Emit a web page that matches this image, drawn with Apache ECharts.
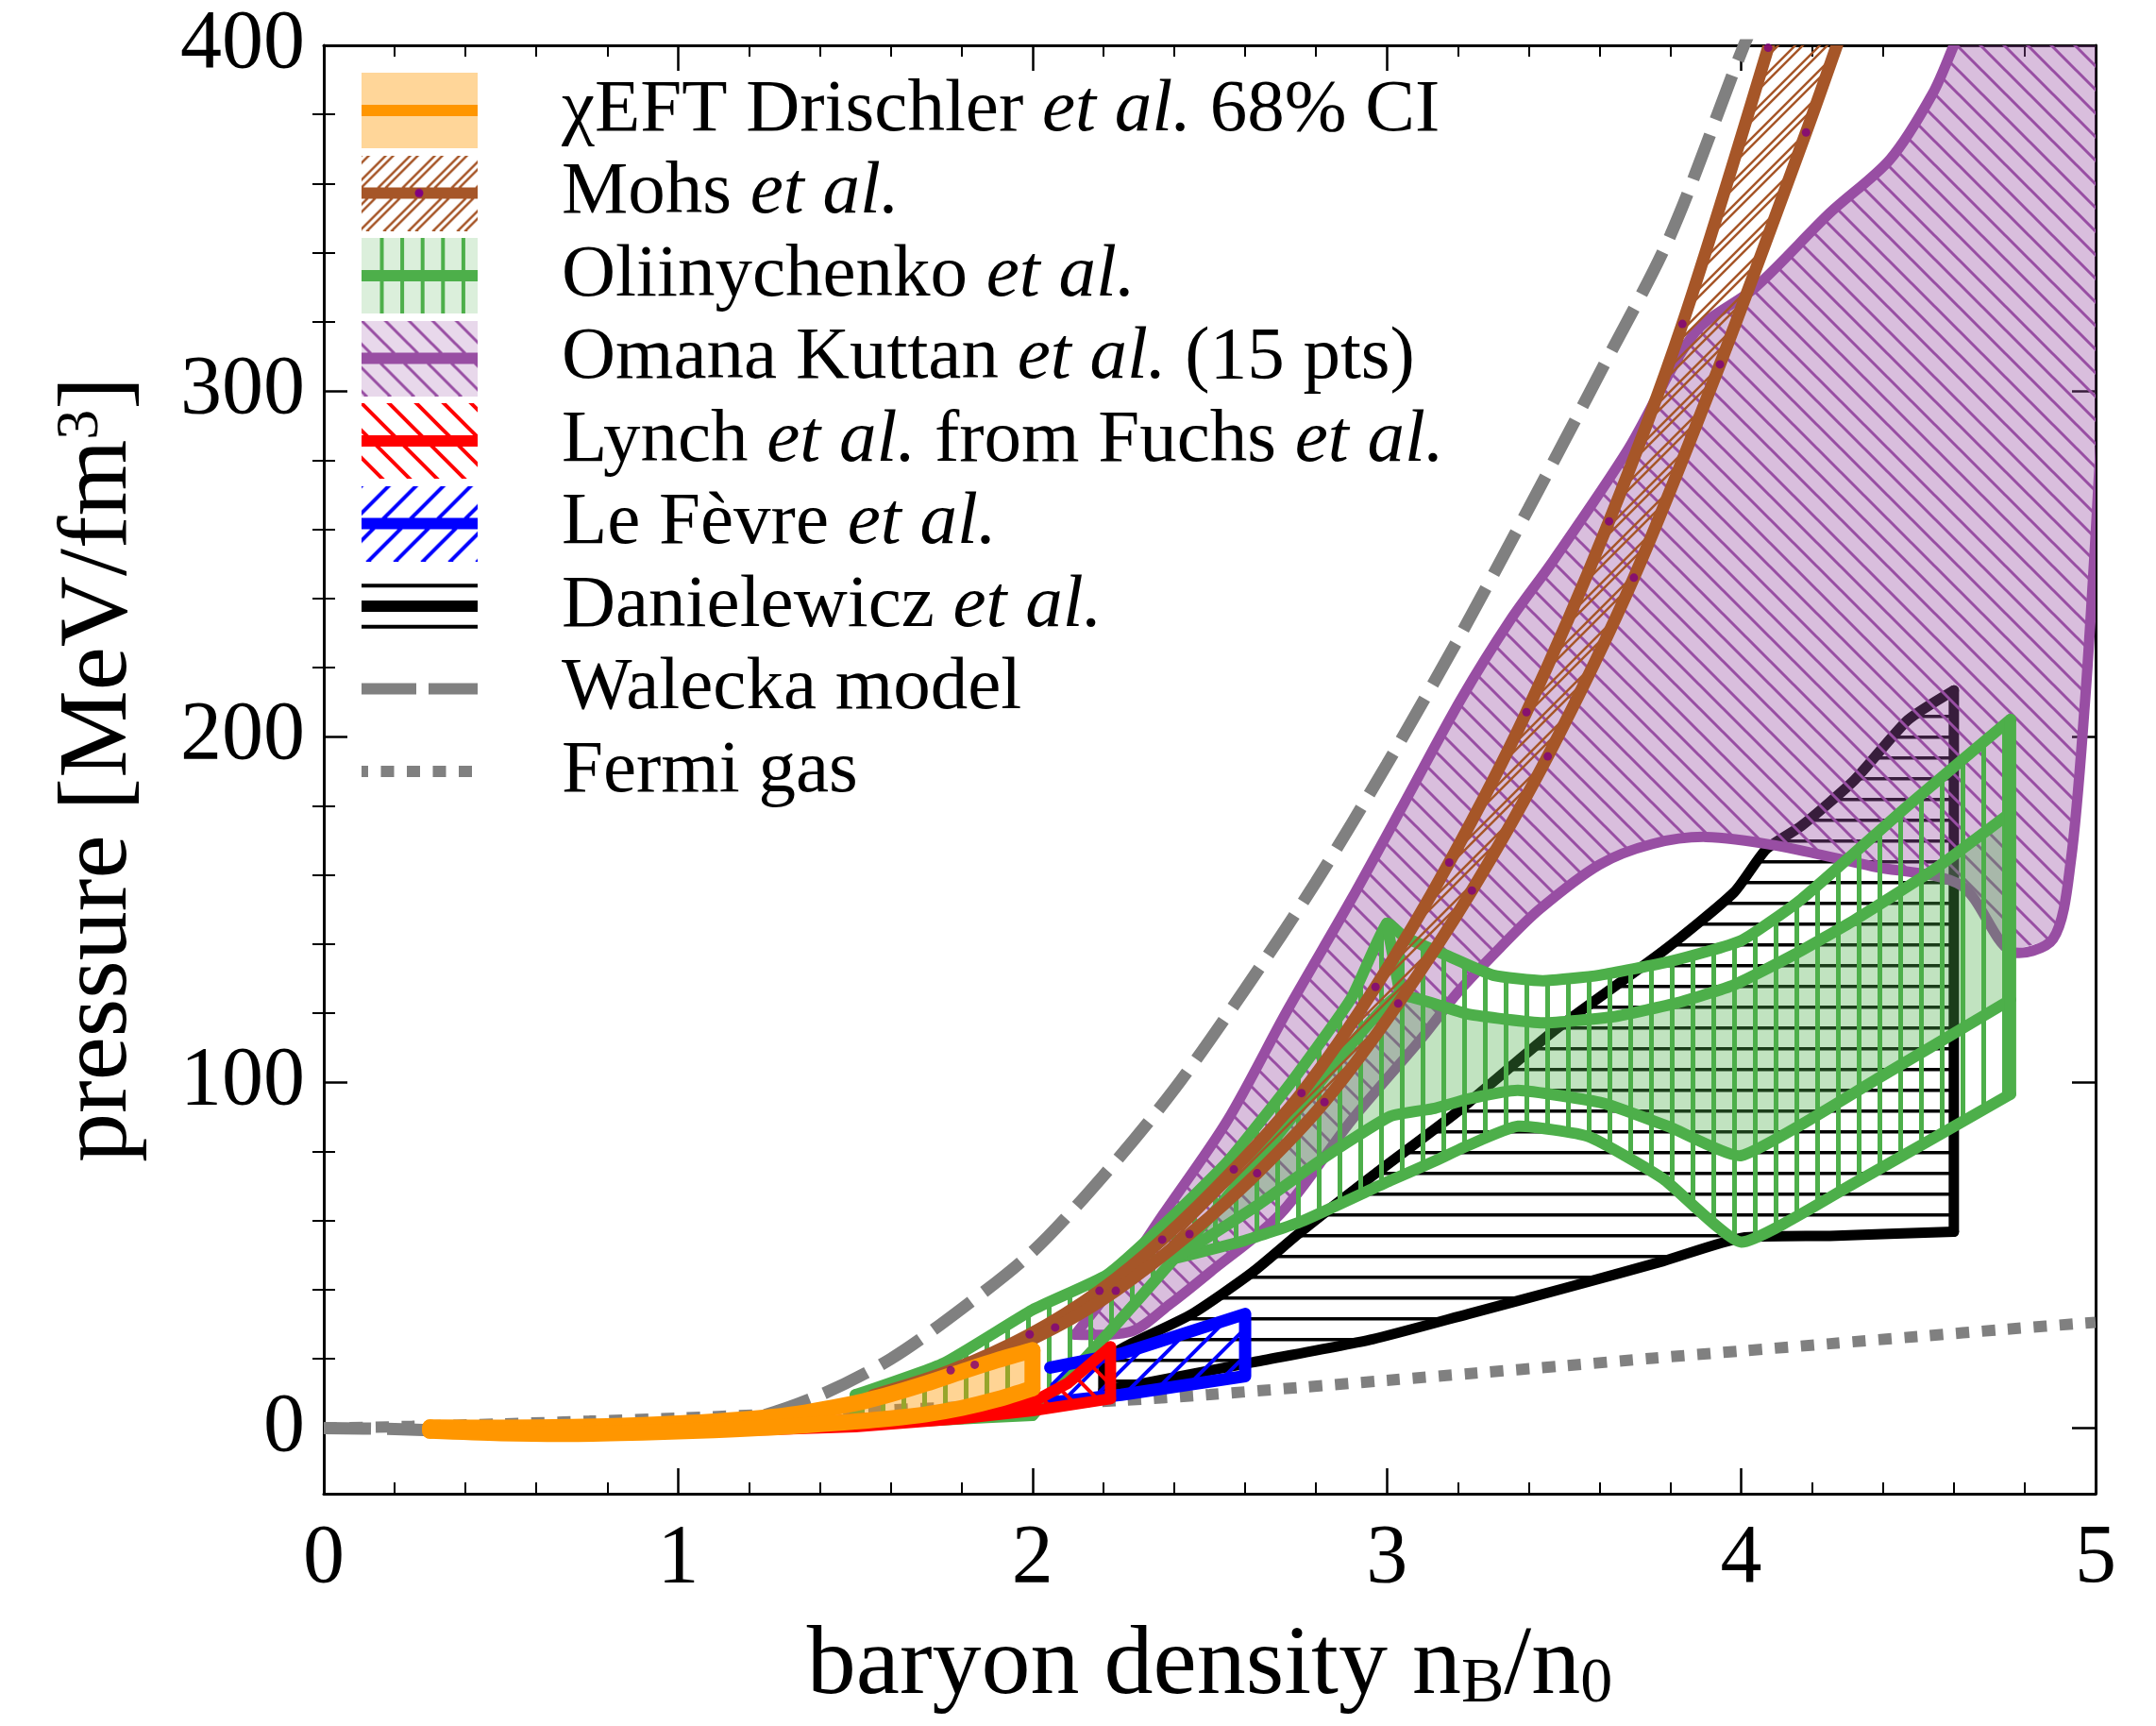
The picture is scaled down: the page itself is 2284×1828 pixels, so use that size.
<!DOCTYPE html>
<html lang="en">
<head>
<meta charset="utf-8" />
<title>pressure vs baryon density</title>
<script src="https://cdn.jsdelivr.net/npm/echarts@6/dist/echarts.min.js"></script>
<style>
    html, body { margin: 0; background: #FFFFFF; }
    #chart { width: 2284px; height: 1828px; }
</style>
</head>
<body>
<div id="chart"></div>
<script>
// x = n_B / n_0, y = pressure [MeV/fm^3]

var walecka = [[0, 0], [0.2, -0.3], [0.4, -1.0], [0.6, -1.8], [0.8, -1.6], [1.0, -0.3], [1.2, 2.5], [1.4, 9.5],
    [1.6, 20], [1.8, 34.5], [2.0, 51], [2.2, 73], [2.4, 98], [2.6, 127], [2.8, 158], [3.0, 192], [3.2, 228],
    [3.4, 266], [3.6, 305], [3.8, 345], [4.0, 398], [4.1, 422]];
var fermiGas = [[0, 0], [0.25, 0.5], [0.5, 1.2], [0.75, 2.0], [1.0, 2.9], [1.25, 3.9], [1.5, 4.9], [1.75, 5.9],
    [2.0, 6.9], [2.25, 8.0], [2.5, 9.7], [2.75, 11.7], [3.0, 13.8], [3.25, 15.9], [3.5, 18.0], [3.75, 20.2],
    [4.0, 22.3], [4.25, 24.4], [4.5, 26.5], [4.75, 28.6], [5.0, 30.6]];

var eftUpper = [[0.3, 0.2], [0.5, 0.1], [0.7, 0.3], [0.9, 0.9], [1.1, 1.9], [1.3, 3.6], [1.5, 7.2], [1.6, 9.8],
    [1.7, 12.9], [1.8, 16.3], [1.9, 19.6], [2.0, 22.5]];
var eftLower = [[0.3, -0.8], [0.5, -1.5], [0.7, -1.7], [0.9, -1.3], [1.1, -0.6], [1.3, 0.4], [1.5, 1.9], [1.6, 2.8],
    [1.7, 4.0], [1.8, 5.8], [1.9, 8.3], [2.0, 11.5]];

var mohsUpper = [[1.55, 9.5], [1.769, 16.7], [1.992, 27.1], [2.189, 39.7], [2.366, 54.5], [2.568, 74.8], [2.759, 96.9],
    [2.968, 127.6], [3.176, 163.6], [3.394, 207.1], [3.627, 262.3], [3.834, 319.4], [4.076, 399.3], [4.1, 410]];
var mohsLower = [[1.6, 10], [1.837, 18.3], [2.064, 29.1], [2.235, 39.7], [2.443, 56.1], [2.634, 73.7], [2.824, 94.3],
    [3.032, 122.8], [3.24, 155.5], [3.454, 194.3], [3.697, 246], [3.94, 307.7], [4.183, 374.8], [4.27, 400], [4.31, 412]];
var mohsDots = [[1.769, 16.7], [1.992, 27.1], [2.189, 39.7], [2.366, 54.5], [2.568, 74.8], [2.759, 96.9], [2.968, 127.6],
    [3.176, 163.6], [3.394, 207.1], [3.627, 262.3], [3.834, 319.4], [4.076, 399.3],
    [1.837, 18.3], [2.064, 29.1], [2.235, 39.7], [2.443, 56.1], [2.634, 73.7], [2.824, 94.3], [3.032, 122.8],
    [3.24, 155.5], [3.454, 194.3], [3.697, 246], [3.94, 307.7], [4.183, 374.8]];

var omanaUpper = [[2.12, 27], [2.25, 44], [2.37, 62], [2.55, 89], [2.72, 121], [2.9, 153], [3.05, 181], [3.21, 211],
    [3.35, 234], [3.47, 251], [3.68, 283], [3.87, 317], [4.04, 330], [4.25, 351.5], [4.42, 367], [4.54, 386],
    [4.6, 400], [4.65, 412], [5.1, 412]];
var omanaLower = [[2.12, 27], [2.28, 28], [2.39, 36], [2.5, 45], [2.7, 62], [2.9, 89], [3.1, 113], [3.2, 126],
    [3.32, 139], [3.43, 150], [3.6, 163], [3.75, 169], [3.9, 171], [4.1, 168.5], [4.37, 162.5], [4.62, 157],
    [4.76, 138], [4.88, 141.5], [4.93, 164], [4.97, 210], [5.0, 258], [5.04, 330], [5.1, 412]];

var oliTop = [[1.5, 9.6], [1.75, 18.8], [2.0, 34.2], [2.21, 44.3], [2.37, 58.8], [2.55, 77], [2.73, 100], [2.9, 124.4],
    [3.0, 146], [3.05, 142], [3.17, 136.7], [3.3, 131], [3.44, 129.4], [3.6, 131], [3.8, 135], [4.0, 141],
    [4.17, 153], [4.47, 180], [4.76, 205]];
var oliBottom = [[1.5, 1.1], [1.75, 2.4], [2.0, 3.7]];
var oliC = [[2.0, 3.7], [2.21, 27], [2.4, 49], [2.64, 78], [2.85, 105], [3.03, 125], [3.23, 119.7], [3.44, 117.2],
    [3.64, 119], [3.82, 123], [3.98, 128.2], [4.15, 137], [4.32, 147], [4.55, 162], [4.76, 178]];
var oliD = [[2.4, 49], [2.6, 54.3], [2.76, 59.8], [3.01, 71.6], [3.13, 77], [3.23, 81.8], [3.37, 87.3], [3.57, 84.3],
    [3.78, 72.1], [4.0, 53.8], [4.32, 70.9], [4.76, 96.6]];
var oliE = [[2.4, 49], [2.64, 64.8], [2.82, 78], [3.01, 90.2], [3.135, 92.5], [3.23, 95.2], [3.37, 97.7], [3.61, 94],
    [3.8, 87], [4.0, 78.8], [4.39, 101.4], [4.76, 123.9]];
var oliNotch = [[3.0, 146], [3.04, 124]];

var lynchUpper = [[1.2, 0.3], [1.5, 2.5], [1.8, 5], [2.0, 7.5], [2.1, 13], [2.22, 23.5]];
var lynchLower = [[1.2, -0.6], [1.5, 0.4], [1.8, 2.8], [2.0, 5], [2.22, 8.5]];

var lefevreUpper = [[2.05, 17.5], [2.25, 21.5], [2.6, 33]];
var lefevreLower = [[2.05, 7.4], [2.25, 9.6], [2.6, 15]];

var danUpper = [[2.2, 20], [2.28, 24.5], [2.45, 33], [2.62, 45], [2.76, 57], [2.96, 73], [3.2, 91.6], [3.47, 114.8],
    [3.78, 138], [3.98, 155], [4.07, 167.4], [4.17, 174.2], [4.32, 187.5], [4.47, 204.8], [4.6, 213.4]];
var danLower = [[2.2, 11], [2.28, 12.3], [2.62, 19], [2.96, 25.7], [3.23, 33], [3.5, 40.4], [3.78, 48.3], [4.0, 55],
    [4.25, 55.6], [4.6, 56.8]];

var xTicks = [0, 1, 2, 3, 4, 5];
var yMajor = [0, 100, 200, 300, 400];
var yMinor = [20, 40, 60, 80, 120, 140, 160, 180, 220, 240, 260, 280, 320, 340, 360, 380];

var legendNames = ['χEFT Drischler et al. 68% CI', 'Mohs et al.', 'Oliinychenko et al.', 'Omana Kuttan et al. (15 pts)',
    'Lynch et al. from Fuchs et al.', 'Le Fèvre et al.', 'Danielewicz et al.', 'Walecka model', 'Fermi gas'];

var FONT = 'Liberation Serif';
var ORANGE = '#FF9600', BROWN = '#A65628', GREEN = '#4DAF4A', PURPLE = '#984EA3';
var RED = '#FF0000', BLUE = '#0000FF', GRAY = '#808080';

// hatch tiles
function tile(s, draw) {
    var c = document.createElement('canvas');
    c.width = s; c.height = s;
    draw(c.getContext('2d'), s);
    return c;
}
function diag(g, s, dir, color, lw, offsets) {
    g.strokeStyle = color; g.lineWidth = lw; g.beginPath();
    offsets.forEach(function (o) {
        for (var k = -2; k <= 2; k++) {
            var x = k * s + o;
            if (dir === '\\') { g.moveTo(x - s, -s); g.lineTo(x + 2 * s, 2 * s); }
            else { g.moveTo(x - s, 2 * s); g.lineTo(x + 2 * s, -s); }
        }
    });
    g.stroke();
}
var hatch = {
    purple: tile(25, function (g, s) { diag(g, s, '\\', PURPLE, 3, [0]); }),
    brown: tile(26, function (g, s) { diag(g, s, '/', BROWN, 2.5, [0, 8]); }),
    green: tile(22, function (g, s) { g.fillStyle = GREEN; g.fillRect(9, 0, 5, s); }),
    black: tile(22, function (g, s) { g.fillStyle = '#000'; g.fillRect(0, 9, s, 3.5); }),
    red: tile(29, function (g, s) { diag(g, s, '\\', RED, 4, [0]); }),
    blue: tile(29, function (g, s) { diag(g, s, '/', BLUE, 4, [0]); })
};

// legend swatches
function swatch(draw) {
    var c = document.createElement('canvas');
    c.width = 123; c.height = 80;
    draw(c.getContext('2d'), 123, 80);
    return 'image://' + c.toDataURL();
}
function patFill(g, t) { g.fillStyle = g.createPattern(t, 'repeat'); g.fillRect(0, 0, 123, 80); }
function hline(g, color, lw, y, dash, off) {
    g.strokeStyle = color; g.lineWidth = lw; g.setLineDash(dash || []); g.lineDashOffset = off || 0;
    g.beginPath(); g.moveTo(0, y); g.lineTo(123, y); g.stroke();
}
var icons = [
    swatch(function (g) { g.fillStyle = 'rgba(255,153,0,0.4)'; g.fillRect(0, 0, 123, 80); hline(g, ORANGE, 12, 40); }),
    swatch(function (g) {
        patFill(g, hatch.brown); hline(g, BROWN, 12, 40);
        g.fillStyle = '#800080'; g.beginPath(); g.arc(61, 40, 4.5, 0, 7); g.fill();
    }),
    swatch(function (g) {
        g.fillStyle = 'rgba(77,175,74,0.2)'; g.fillRect(0, 0, 123, 80);
        g.fillStyle = GREEN; for (var x = 19.5; x < 123; x += 21.6) g.fillRect(x, 0, 4, 80);
        hline(g, GREEN, 12, 40);
    }),
    swatch(function (g) { g.fillStyle = 'rgba(152,78,163,0.22)'; g.fillRect(0, 0, 123, 80); patFill(g, hatch.purple); hline(g, PURPLE, 12, 40); }),
    swatch(function (g) { patFill(g, hatch.red); hline(g, RED, 12, 40); }),
    swatch(function (g) { patFill(g, hatch.blue); hline(g, BLUE, 12, 40); }),
    swatch(function (g) { hline(g, '#000', 4, 18.3); hline(g, '#000', 12, 40); hline(g, '#000', 4, 61.7); }),
    swatch(function (g) { hline(g, GRAY, 12, 40, [58, 13]); }),
    swatch(function (g) { hline(g, GRAY, 12, 40, [14, 13.5], 7); })
];

function rich(name) {
    return name.split('et al.').map(function (p) { return p ? '{n|' + p + '}' : ''; }).join('{i|et al.}');
}

function rev(a) { return a.slice().reverse(); }

function band(name, z, cfg) {
    return {
        name: name,
        type: 'custom',
        coordinateSystem: 'cartesian2d',
        clip: true,
        silent: true,
        z: z,
        data: [[0, 0]],
        renderItem: function (params, api) {
            var px = function (p) { return api.coord(p); };
            var kids = [];
            (cfg.areas || []).forEach(function (a) {
                var pts = a.pts.map(px);
                if (a.fill) kids.push({ type: 'polygon', shape: { points: pts }, style: { fill: a.fill, stroke: null } });
                if (a.hatch) kids.push({ type: 'polygon', shape: { points: pts }, style: { fill: { image: a.hatch, repeat: 'repeat' }, stroke: null } });
            });
            (cfg.lines || []).forEach(function (l) {
                kids.push({
                    type: 'polyline',
                    shape: { points: l.map(px), smooth: cfg.smooth || 0 },
                    style: { fill: null, stroke: cfg.color, lineWidth: cfg.width, lineJoin: 'round', lineCap: 'round' }
                });
            });
            return { type: 'group', children: kids };
        }
    };
}

var series = [
    {
        name: legendNames[7], type: 'line', z: 1, data: walecka, symbol: 'none', smooth: 0.3, silent: true,
        lineStyle: { color: GRAY, width: 13, type: [50, 17], cap: 'butt' }
    },
    {
        name: legendNames[8], type: 'line', z: 1, data: fermiGas, symbol: 'none', smooth: 0.3, silent: true,
        lineStyle: { color: GRAY, width: 12, type: [14, 13.5], cap: 'butt' }
    },
    band(legendNames[6], 3, {
        color: '#000', width: 11, smooth: 0.2,
        areas: [{ pts: danUpper.concat(rev(danLower)), hatch: hatch.black }],
        lines: [danUpper, danLower, [danLower[danLower.length - 1], danUpper[danUpper.length - 1]], [danLower[0], danUpper[0]]]
    }),
    band(legendNames[3], 4, {
        color: PURPLE, width: 11, smooth: 0.3,
        areas: [{ pts: omanaUpper.concat(rev(omanaLower)), fill: 'rgba(152,78,163,0.37)', hatch: hatch.purple }],
        lines: [omanaUpper, omanaLower]
    }),
    band(legendNames[2], 5, {
        color: GREEN, width: 12, smooth: 0.15,
        areas: [
            { pts: oliTop.concat(rev(oliD), rev(oliC.slice(0, 3)), rev(oliBottom)), hatch: hatch.green },
            { pts: oliC.slice(2).concat(rev(oliE)), fill: 'rgba(77,175,74,0.35)' }
        ],
        lines: [oliTop, oliBottom, oliC, oliD, oliE, oliNotch,
            [oliD[oliD.length - 1], oliTop[oliTop.length - 1]], [oliBottom[0], oliTop[0]]]
    }),
    band(legendNames[1], 6, {
        color: BROWN, width: 13, smooth: 0.3,
        areas: [{ pts: mohsUpper.concat(rev(mohsLower)), hatch: hatch.brown }],
        lines: [mohsUpper, mohsLower]
    }),
    band(legendNames[5], 7, {
        color: BLUE, width: 13,
        areas: [{ pts: lefevreUpper.concat(rev(lefevreLower)), hatch: hatch.blue }],
        lines: [lefevreUpper.concat(rev(lefevreLower))]
    }),
    band(legendNames[4], 8, {
        color: RED, width: 12,
        areas: [{ pts: lynchUpper.concat(rev(lynchLower)), hatch: hatch.red }],
        lines: [lynchUpper, lynchLower, [lynchLower[lynchLower.length - 1], lynchUpper[lynchUpper.length - 1]]]
    }),
    band(legendNames[0], 9, {
        color: ORANGE, width: 17, smooth: 0.3,
        areas: [{ pts: eftUpper.concat(rev(eftLower)), fill: 'rgba(255,153,0,0.42)' }],
        lines: [eftUpper, eftLower, [eftLower[eftLower.length - 1], eftUpper[eftUpper.length - 1]],
            [eftLower[0], eftUpper[0]]]
    }),
    {
        name: 'Mohs points', type: 'scatter', z: 10, data: mohsDots, symbolSize: 9, silent: true,
        itemStyle: { color: '#800080' }
    }
];

var axisLine = { show: true, onZero: false, lineStyle: { color: '#000', width: 3 } };
var labelStyle = { fontFamily: FONT, fontSize: 88, color: '#000' };

var chart = echarts.init(document.getElementById('chart'));
chart.setOption({
    animation: false,
    backgroundColor: '#FFFFFF',
    grid: { left: 343, right: 64, top: 48, bottom: 246, containLabel: false, outerBoundsMode: 'none' },
    legend: {
        orient: 'vertical', left: 383, top: 77, padding: 0, z: 12,
        itemWidth: 123, itemHeight: 80, itemGap: 7.5, selectedMode: false,
        data: legendNames.map(function (n, i) { return { name: n, icon: icons[i] }; }),
        formatter: rich,
        textStyle: {
            padding: [0, 0, 0, 84], lineHeight: 80,
            rich: {
                n: { fontFamily: FONT, fontSize: 79, color: '#000', lineHeight: 80 },
                i: { fontFamily: FONT, fontSize: 79, color: '#000', fontStyle: 'italic', lineHeight: 80 }
            }
        }
    },
    xAxis: [
        {
            type: 'value', min: 0, max: 5, interval: 1, position: 'bottom',
            axisLine: axisLine, splitLine: { show: false },
            axisTick: { inside: true, length: 27, lineStyle: { color: '#000', width: 2.5 } },
            minorTick: { show: true, splitNumber: 5, length: 12, lineStyle: { color: '#000', width: 2 } },
            axisLabel: Object.assign({ margin: 26, customValues: xTicks }, labelStyle),
            name: '{n|baryon density n}{s|B}{n|/n}{s|0}',
            nameLocation: 'middle', nameGap: 132,
            nameTextStyle: {
                rich: {
                    n: { fontFamily: FONT, fontSize: 104, color: '#000', lineHeight: 104 },
                    s: { fontFamily: FONT, fontSize: 68, color: '#000', lineHeight: 62, verticalAlign: 'bottom' }
                }
            }
        },
        {
            type: 'value', min: 0, max: 5, interval: 1, position: 'top',
            axisLine: axisLine, splitLine: { show: false }, axisLabel: { show: false },
            axisTick: { inside: true, length: 27, lineStyle: { color: '#000', width: 2.5 } },
            minorTick: { show: true, splitNumber: 5, length: 12, lineStyle: { color: '#000', width: 2 } }
        }
    ],
    yAxis: [
        {
            type: 'value', min: -19, max: 400, position: 'left',
            axisLine: axisLine, splitLine: { show: false },
            axisTick: { inside: true, length: 25, customValues: yMajor, lineStyle: { color: '#000', width: 2.5 } },
            axisLabel: Object.assign({ margin: 20, customValues: yMajor }, labelStyle),
            name: '{n|pressure [MeV/fm}{s|3}{n|]}',
            nameLocation: 'middle', nameGap: 185, nameRotate: 90,
            nameTextStyle: {
                rich: {
                    n: { fontFamily: FONT, fontSize: 104, color: '#000', lineHeight: 104 },
                    s: { fontFamily: FONT, fontSize: 64, color: '#000', lineHeight: 70, verticalAlign: 'top' }
                }
            }
        },
        {
            type: 'value', min: -19, max: 400, position: 'left',
            axisLine: { show: false }, splitLine: { show: false }, axisLabel: { show: false },
            axisTick: { inside: true, length: 12, customValues: yMinor, lineStyle: { color: '#000', width: 2 } }
        },
        {
            type: 'value', min: -19, max: 400, position: 'right',
            axisLine: axisLine, splitLine: { show: false }, axisLabel: { show: false },
            axisTick: { inside: true, length: 25, customValues: yMajor, lineStyle: { color: '#000', width: 2.5 } }
        },
        {
            type: 'value', min: -19, max: 400, position: 'right',
            axisLine: { show: false }, splitLine: { show: false }, axisLabel: { show: false },
            axisTick: { inside: true, length: 12, customValues: yMinor, lineStyle: { color: '#000', width: 2 } }
        }
    ],
    series: series
});
</script>
</body>
</html>
